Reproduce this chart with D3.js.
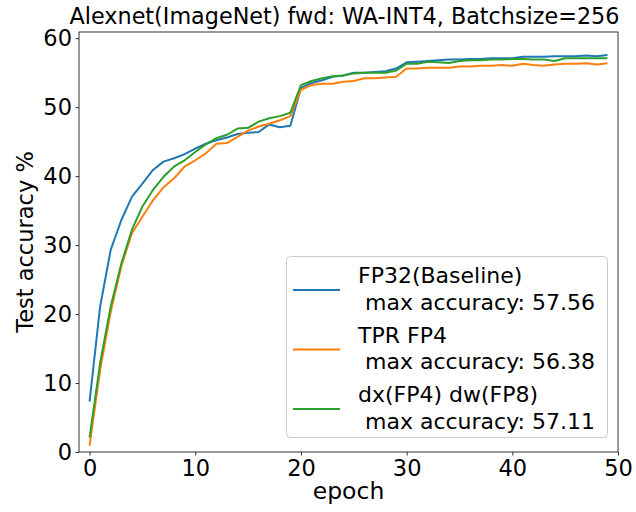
<!DOCTYPE html>
<html>
<head>
<meta charset="utf-8">
<script src="https://cdn.jsdelivr.net/npm/d3@7"></script>
<style>
  body { margin: 0; background: #fff; }
  text { font-family: "DejaVu Sans", sans-serif; fill: #000; }
</style>
</head>
<body>
<svg id="chart" width="636" height="512"></svg>
<script>
(function(){
  // accuracy per epoch
  var epochs = d3.range(0, 50)
  var fp32 = [7.3, 21.1, 29.3, 33.6, 37.0, 38.9, 40.9, 42.1, 42.6, 43.2,
              44.0, 44.7, 45.2, 45.6, 46.1, 46.3, 46.4, 47.5, 47.1, 47.3,
              52.8, 53.5, 53.9, 54.4, 54.6, 55.0, 55.0, 55.1, 55.2, 55.6,
              56.5, 56.6, 56.7, 56.8, 56.9, 56.9, 57.0, 57.0, 57.1, 57.1,
              57.1, 57.3, 57.3, 57.3, 57.4, 57.4, 57.4, 57.5, 57.4, 57.56]
  var tprFp4 = [0.9, 11.9, 20.3, 26.9, 31.7, 34.1, 36.5, 38.4, 39.7, 41.4,
                42.3, 43.3, 44.7, 44.8, 45.7, 46.6, 47.2, 47.6, 48.1, 48.7,
                52.5, 53.2, 53.4, 53.4, 53.7, 53.8, 54.2, 54.2, 54.3, 54.4,
                55.6, 55.6, 55.7, 55.7, 55.7, 55.9, 55.9, 56.0, 56.0, 56.1,
                56.0, 56.3, 56.1, 56.0, 56.2, 56.3, 56.3, 56.38, 56.2, 56.38]
  var dxdw = [2.1, 12.9, 21.1, 27.3, 32.2, 35.6, 38.0, 39.9, 41.4, 42.3,
              43.5, 44.6, 45.5, 46.0, 46.9, 47.0, 47.9, 48.4, 48.7, 49.2,
              53.2, 53.8, 54.2, 54.5, 54.6, 54.9, 55.0, 55.0, 55.0, 55.3,
              56.3, 56.3, 56.6, 56.5, 56.4, 56.7, 56.8, 56.8, 56.9, 56.9,
              57.0, 57.0, 56.9, 56.9, 56.7, 57.1, 57.1, 57.11, 57.1, 57.11]
  var seriesNames = ["FP32(Baseline)", "TPR FP4", "dx(FP4) dw(FP8)"]
  var seriesMax = ["57.56", "56.38", "57.11"]
  var colors = ["#1f77b4", "#ff7f0e", "#2ca02c"]
  var xTicks = [0, 10, 20, 30, 40, 50]
  var yTicks = [0, 10, 20, 30, 40, 50, 60]

  var svg = d3.select('#chart')
  var left = 79, right = 618, top = 32, bottom = 452

  var xScale = d3.scaleLinear().domain([-1, 50]).range([left, right])
  var yScale = d3.scaleLinear().domain([0, 60.9]).range([bottom, top])

  // axes
  var xAxis = svg.append('g')
    .attr('transform', 'translate(0,' + bottom + ')')
    .call(d3.axisBottom(xScale).tickValues(xTicks).tickSize(3.5).tickPadding(5))
  var yAxis = svg.append('g')
    .attr('transform', 'translate(' + left + ',0)')
    .call(d3.axisLeft(yScale).tickValues(yTicks).tickSize(3.5).tickPadding(3.5))
  ;[xAxis, yAxis].forEach(function(ax) {
    ax.select('.domain').remove()
    ax.selectAll('line').attr('stroke', '#000').attr('stroke-width', 0.8)
    ax.selectAll('text').style('font-size', '22.5px').attr('fill', '#000')
  })

  // frame
  svg.append('rect')
    .attr('x', left).attr('y', top)
    .attr('width', right - left).attr('height', bottom - top)
    .attr('fill', 'none').attr('stroke', '#000').attr('stroke-width', 0.8)

  // lines
  var line = d3.line()
    .x(function(d, i) { return xScale(epochs[i]) })
    .y(function(d) { return yScale(d) })
  ;[fp32, tprFp4, dxdw].forEach(function(series, si) {
    svg.append('path')
      .attr('d', line(series))
      .attr('fill', 'none')
      .attr('stroke', colors[si])
      .attr('stroke-width', 2)
      .attr('stroke-linejoin', 'round')
  })

  // title and labels
  svg.append('text')
    .attr('x', (left + right) / 2 - 4).attr('y', 24)
    .attr('text-anchor', 'middle')
    .style('font-size', '22.3px')
    .text('Alexnet(ImageNet) fwd: WA-INT4, Batchsize=256')
  svg.append('text')
    .attr('x', (left + right) / 2).attr('y', 499)
    .attr('text-anchor', 'middle')
    .style('font-size', '23.5px')
    .text('epoch')
  svg.append('text')
    .attr('transform', 'translate(33,' + (top + bottom) / 2 + ') rotate(-90)')
    .attr('text-anchor', 'middle')
    .style('font-size', '22.5px')
    .text('Test accuracy %')

  // legend
  var legend = svg.append('g')
  legend.append('rect')
    .attr('x', 286.5).attr('y', 256.5)
    .attr('width', 321).attr('height', 181)
    .attr('rx', 4)
    .attr('fill', '#fff').attr('fill-opacity', 0.8)
    .attr('stroke', '#ccc').attr('stroke-width', 1)
  seriesNames.forEach(function(name, i) {
    var y0 = 283 + i * 59.5
    legend.append('line')
      .attr('x1', 293).attr('x2', 340)
      .attr('y1', y0 + 7).attr('y2', y0 + 7)
      .attr('stroke', colors[i]).attr('stroke-width', 2)
    legend.append('text')
      .attr('x', 358).attr('y', y0)
      .style('font-size', '22px')
      .text(name)
    legend.append('text')
      .attr('x', 358).attr('y', y0 + 26.5)
      .style('font-size', '22px')
      .style('white-space', 'pre')
      .text(' max accuracy: ' + seriesMax[i])
  })
})()
</script>
</body>
</html>
